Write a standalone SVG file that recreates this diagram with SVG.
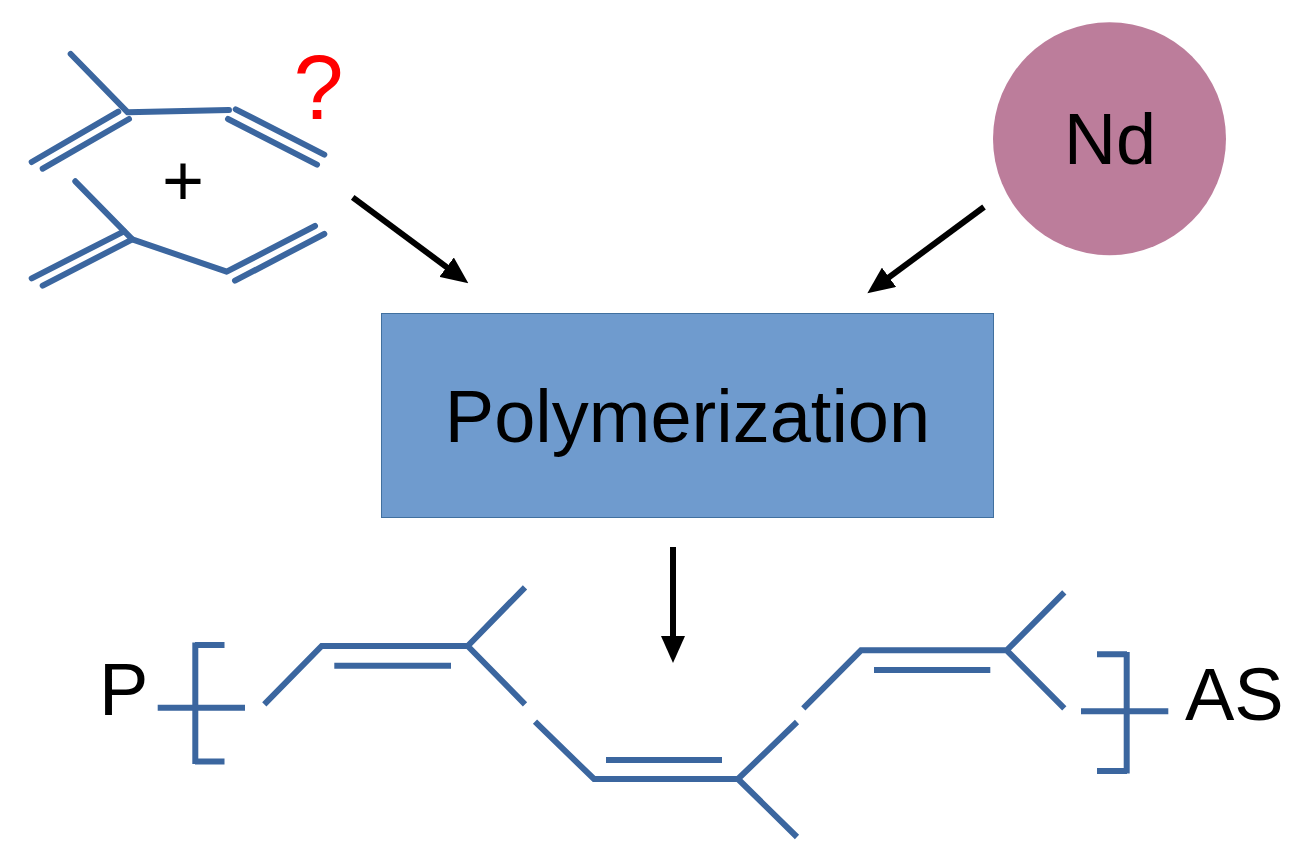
<svg xmlns="http://www.w3.org/2000/svg" width="1308" height="864" viewBox="0 0 1308 864">
<style>
text{font-family:"Liberation Sans",Arial,sans-serif;fill:#000}
.b{stroke:#3b669f;stroke-width:6;fill:none;stroke-linecap:butt}
.r{stroke-linecap:round;stroke-linejoin:round}
.a{stroke:#000;stroke-width:6;fill:none;marker-end:url(#h)}
</style>
<defs>
<marker id="h" markerUnits="userSpaceOnUse" viewBox="0 0 27 24" refX="12" refY="12" markerWidth="27" markerHeight="24" orient="auto"><path d="M0 0L27 12L0 24Z" fill="#000"/></marker>
</defs>
<rect width="1308" height="864" fill="#fff"/>
<g id="monomer-top" class="b r">
<path d="M70.7 54L127.7 112.3L229 110"/>
<path d="M31.7 162L118.3 111.7M42.7 168.7L129 119"/>
<path d="M235.7 109.3L324.3 154.7M228 119L317 164.7"/>
</g>
<g id="monomer-bottom" class="b r">
<path d="M75.3 181.3L132.3 239.3L226.7 271.7L315 226"/>
<path d="M31.7 278.3L124 231.3M42.7 285.7L132.3 239.3"/>
<path d="M235 280.7L324.3 234"/>
</g>
<g id="question"><text x="318.5" y="119" font-size="90" text-anchor="middle" style="fill:#f00">?</text></g>
<g id="plus"><text x="183" y="205" font-size="72" text-anchor="middle">+</text></g>
<g id="nd"><circle cx="1109.5" cy="138.7" r="116.5" fill="#bc7d9b"/><text x="1110" y="164" font-size="72" text-anchor="middle">Nd</text></g>
<g id="polymerization"><rect x="381.5" y="313.5" width="612" height="204" fill="#6f9bce" stroke="#41709f" stroke-width="1"/><text x="687.5" y="442" font-size="74" text-anchor="middle">Polymerization</text></g>
<g id="polymer" class="b">
<path d="M195.3 642.5V764"/>
<path d="M195 645H224.5M195 761.5H224.5M157.7 707.7H245"/>
<path d="M264.3 704.3L321.7 646H467.7L525 587.3M467.7 646L525 704.3"/>
<path d="M334.3 665.7H451"/>
<path d="M535 721.7L594 779H738L797 722M738 779L797 837"/>
<path d="M606 760H722"/>
<path d="M803.3 708.3L861 650.3H1006.7L1064.3 592.3M1006.7 650.3L1064.3 708.3"/>
<path d="M874 670H990.3"/>
<path d="M1126.7 652V773.5"/>
<path d="M1097 654.3H1127M1097 771H1127M1081 711.3H1168.3"/>
</g>
<g id="p"><text x="99" y="715" font-size="74">P</text></g>
<g id="as"><text x="1185" y="720" font-size="74">AS</text></g>
<g id="connectors">
<path class="a" d="M352.7 197.3L456.3 274.3"/>
<path class="a" d="M984 207L879.4 284.4"/>
<path class="a" d="M673 547V648"/>
</g>
</svg>
